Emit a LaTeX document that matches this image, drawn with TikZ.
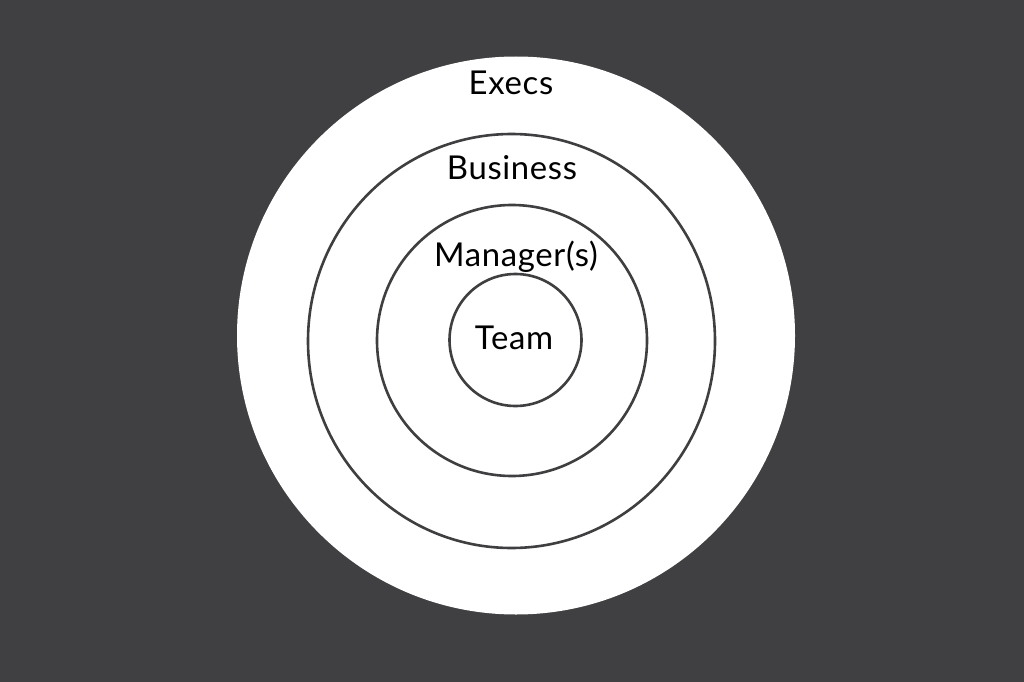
\documentclass[tikz,border=0pt]{standalone}
\usepackage{fontspec}
\setmainfont[LetterSpace=2]{Lato}
\definecolor{bg}{HTML}{404042}
\definecolor{ring}{HTML}{3F3F41}
\begin{document}
\begin{tikzpicture}[x=1bp,y=-1bp,
  ringline/.style={draw=ring,line width=2.6bp},
  lbl/.style={anchor=base,inner sep=0pt,font=\fontsize{33}{38}\selectfont,text=black}]
\useasboundingbox (0,0) rectangle (1024,682);
\fill[bg] (0,0) rectangle (1024,682);
\fill[white] (516,335.5) circle [radius=279];
\draw[ringline] (511.5,341) ellipse [x radius=203.5,y radius=207];
\draw[ringline] (512,340.5) ellipse [x radius=135,y radius=135.5];
\draw[ringline] (515.5,340) circle [radius=66];
\node[lbl] (execs) at (511,95) {Execs};
\node[lbl] (business) at (512,180) {Business};
\node[lbl] (managers) at (516,266) {Manager(s)};
\node[lbl] (team) at (514,349) {Team};
\end{tikzpicture}
\end{document}
